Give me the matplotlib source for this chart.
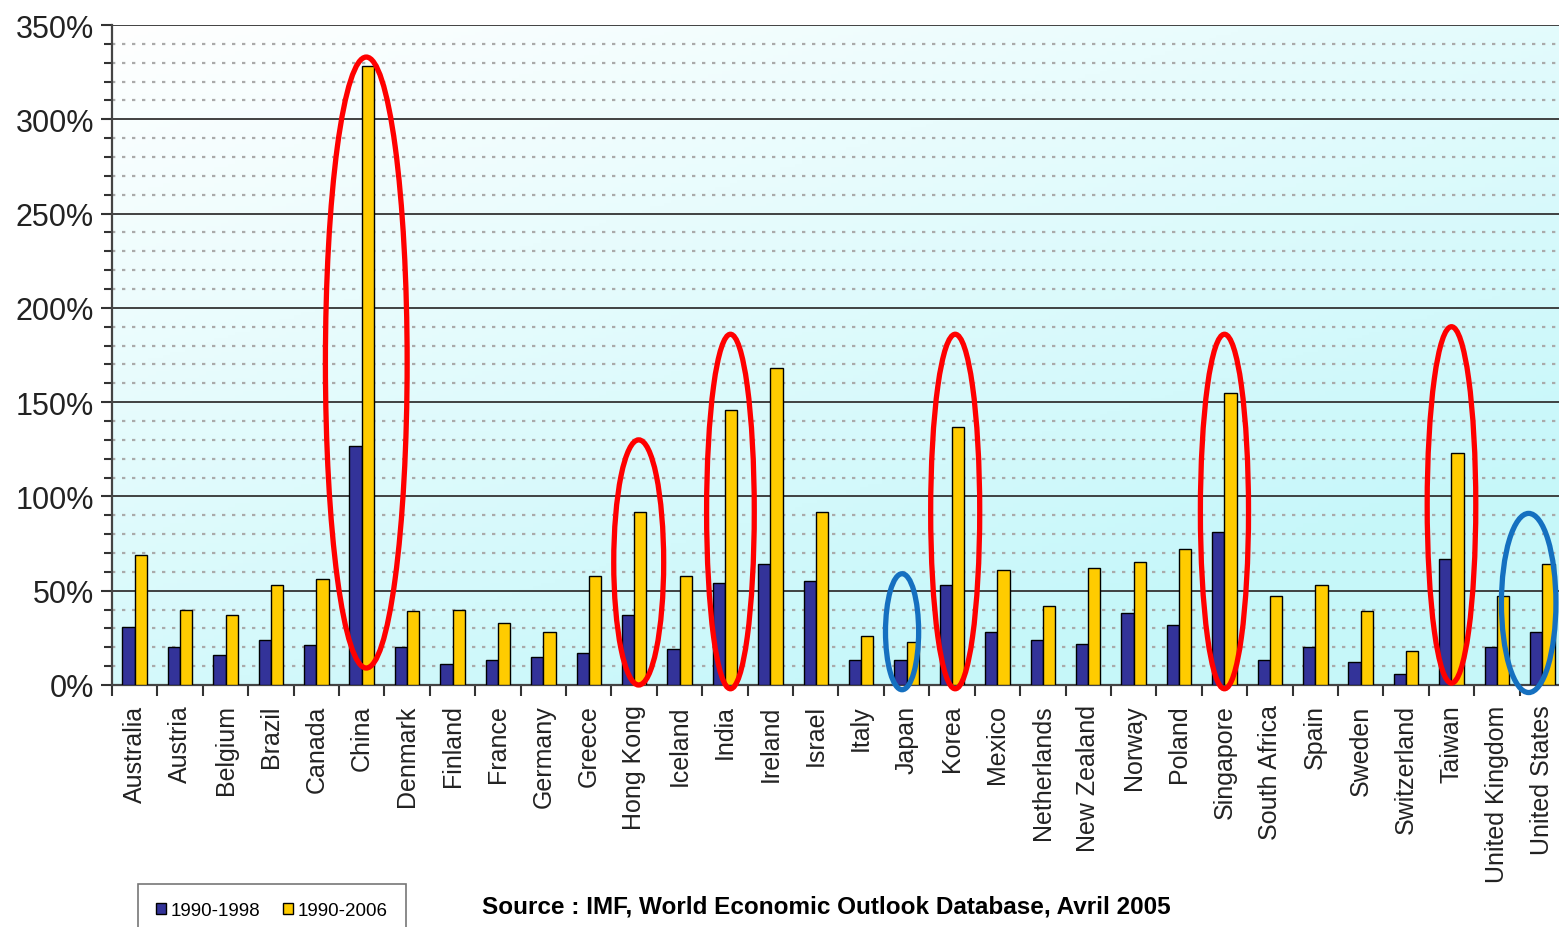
import numpy as np
import matplotlib.pyplot as plt
from matplotlib.patches import Ellipse, Patch
from matplotlib.ticker import MultipleLocator, FuncFormatter

countries = ['Australia', 'Austria', 'Belgium', 'Brazil', 'Canada', 'China', 'Denmark',
             'Finland', 'France', 'Germany', 'Greece', 'Hong Kong', 'Iceland', 'India',
             'Ireland', 'Israel', 'Italy', 'Japan', 'Korea', 'Mexico', 'Netherlands',
             'New Zealand', 'Norway', 'Poland', 'Singapore', 'South Africa', 'Spain',
             'Sweden', 'Switzerland', 'Taiwan', 'United Kingdom', 'United States']
growth_1990_1998 = [31, 20, 16, 24, 21, 127, 20, 11, 13, 15, 17, 37, 19, 54, 64, 55, 13,
                    13, 53, 28, 24, 22, 38, 32, 81, 13, 20, 12, 6, 67, 20, 28]
growth_1990_2006 = [69, 40, 37, 53, 56, 328, 39, 40, 33, 28, 58, 92, 58, 146, 168, 92, 26,
                    23, 137, 61, 42, 62, 65, 72, 155, 47, 53, 39, 18, 123, 47, 64]
series_labels = ['1990-1998', '1990-2006']

# highlighted countries: (name, colour, x shift, width, bottom, top) in data units
highlights = [('China', 'red', 0.1, 1.8, 9, 333),
              ('Hong Kong', 'red', 0.1, 1.1, 0, 130),
              ('India', 'red', 0.12, 1.05, -2, 186),
              ('Korea', 'red', 0.07, 1.08, -2, 186),
              ('Singapore', 'red', 0.0, 1.06, -2, 186),
              ('Taiwan', 'red', 0.0, 1.07, 1, 190),
              ('Japan', '#1570C0', -0.1, 0.73, -2.5, 59),
              ('United States', '#1570C0', -0.3, 1.2, -4, 91)]

fig = plt.figure(figsize=(15.59, 9.28), dpi=100)
ax = fig.add_axes([112/1559, 242/928, 1453/1559, 660/928])

x = np.arange(len(countries))
w = 0.27

# background gradient white -> light cyan
gx, gy = np.meshgrid(np.linspace(0, 1, 200), np.linspace(0, 1, 200))
t = np.clip(0.75 * gy + 0.5 * gx, 0, 1)
c0 = np.array([1.0, 1.0, 1.0])
c1 = np.array([0.78, 0.97, 0.98])
img = c0[None, None, :] * (1 - t[..., None]) + c1[None, None, :] * t[..., None]
ax.imshow(img, extent=[-0.5, len(countries) - 0.5, 0, 350], origin='upper',
          aspect='auto', zorder=0)

ax.bar(x - w/2, growth_1990_1998, w, color='#333399', edgecolor='black', linewidth=1, zorder=3)
ax.bar(x + w/2, growth_1990_2006, w, color='#FFCC00', edgecolor='black', linewidth=1, zorder=3)

for name, col, dx, ew, lo, hi in highlights:
    i = countries.index(name)
    e = Ellipse((i + dx, (lo + hi) / 2), ew, hi - lo, fill=False, edgecolor=col,
                linewidth=3.8, zorder=5, clip_on=False)
    ax.add_patch(e)

ax.set_xlim(-0.5, len(countries) - 0.5)
ax.set_ylim(0, 350)
ax.yaxis.set_major_locator(MultipleLocator(50))
ax.yaxis.set_minor_locator(MultipleLocator(10))
ax.yaxis.set_major_formatter(FuncFormatter(lambda v, p: '%d%%' % v))
ax.grid(axis='y', which='major', color='#333333', linewidth=1.3, zorder=1)
ax.grid(axis='y', which='minor', color='#aaaaaa', linestyle=(0, (1.5, 3)), linewidth=1.6, zorder=1)
ax.set_axisbelow(True)

ax.set_xticks(x)
ax.set_xticklabels(countries, rotation=90, fontsize=18, family='Liberation Sans', color='#222222')
ax.set_xticks(np.arange(len(countries) + 1) - 0.5, minor=True)
ax.tick_params(axis='x', which='major', length=0, pad=14)
ax.tick_params(axis='x', which='minor', length=8, width=1.5, color='#333333')
ax.tick_params(axis='y', which='major', length=8, width=1.5, color='#333333', labelsize=22, pad=5)
ax.tick_params(axis='y', which='minor', length=6, width=1.5, color='#333333')
for lab in ax.get_yticklabels():
    lab.set_family('Liberation Sans')
    lab.set_color('#222222')

for s in ['top', 'right']:
    ax.spines[s].set_visible(False)
ax.spines['left'].set_color('#444444')
ax.spines['left'].set_linewidth(1.6)
ax.spines['bottom'].set_color('#444444')
ax.spines['bottom'].set_linewidth(1.6)

handles = [Patch(facecolor='#333399', edgecolor='black', label=series_labels[0]),
           Patch(facecolor='#FFCC00', edgecolor='black', label=series_labels[1])]
leg = fig.legend(handles=handles, loc='upper left', bbox_to_anchor=(138/1559, 1 - 885/928),
                 ncol=2, frameon=True, fancybox=False, handlelength=0.55, handleheight=0.55,
                 handletextpad=0.25, columnspacing=1.2, borderpad=0.95, borderaxespad=0,
                 prop={'family': 'Liberation Sans', 'size': 13.5})
leg.get_frame().set_edgecolor('#555555')
leg.get_frame().set_linewidth(1.2)

fig.text(482/1559, 1 - 907/928, 'Source : IMF, World Economic Outlook Database, Avril 2005',
         fontsize=17.5, fontweight='bold', va='center', ha='left', family='Liberation Sans')

fig.savefig('out.png', dpi=100)
